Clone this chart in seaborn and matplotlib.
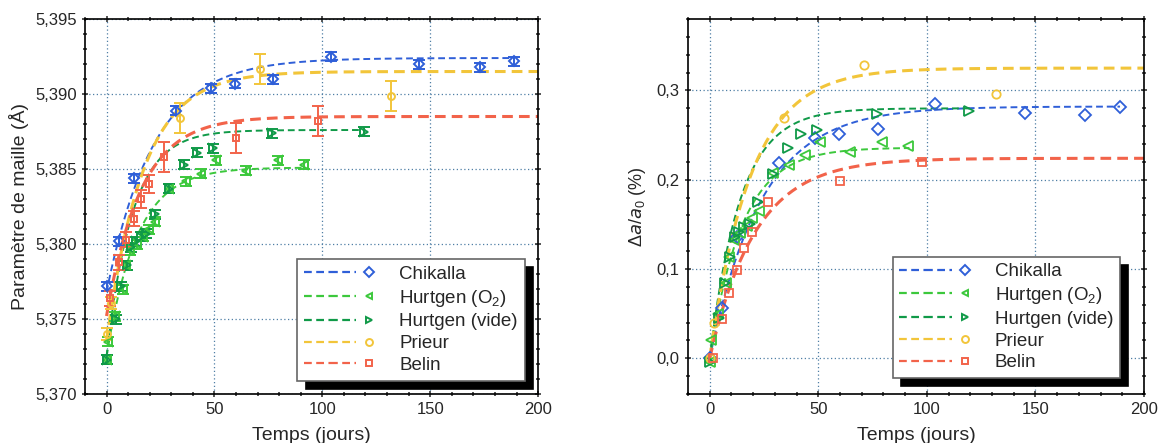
"""
Lattice parameter evolution vs time: raw values (left) and relative change (right)
"""
import matplotlib
matplotlib.use("Agg")
import matplotlib.pyplot as plt
from matplotlib.legend_handler import HandlerTuple
from matplotlib.lines import Line2D
from matplotlib.ticker import MultipleLocator, FuncFormatter
import seaborn as sns
import pandas as pd
import numpy as np

sns.set_theme(style="ticks")
plt.rcParams["font.family"] = ["Liberation Sans", "DejaVu Sans"]
plt.rcParams["mathtext.default"] = "regular"

# data
chik_t = [0, 5.8, 12.5, 32, 48.3, 59.6, 77.3, 104, 145, 173, 189]
chik_a = [5.3772, 5.3802, 5.3844, 5.3889, 5.3904, 5.3907, 5.3910, 5.3925, 5.3920, 5.3918, 5.3922]
chik_err = [0.0003] * 11
chik_r = [0.000, 0.056, 0.136, 0.219, 0.247, 0.251, 0.257, 0.285, 0.275, 0.273, 0.281]

o2_t = [0, 0.8, 4, 7.4, 9.1, 11, 14, 17, 19.5, 22.6, 29, 36.7, 43.8, 50.7, 64.8, 79.3, 91.4]
o2_a = [5.3723, 5.3735, 5.3752, 5.3770, 5.3786, 5.3796, 5.3800, 5.3805, 5.3810, 5.3815,
        5.3837, 5.3842, 5.3847, 5.3856, 5.3849, 5.3856, 5.3853]
o2_err = [0.0003] * 17
o2_r = [-0.004, 0.021, 0.050, 0.084, 0.114, 0.133, 0.140, 0.148, 0.157, 0.165,
        0.207, 0.217, 0.228, 0.242, 0.231, 0.242, 0.238]

vide_t = [0, 4.5, 6.9, 9.5, 11.5, 13.5, 16, 18.5, 22.3, 29, 35.9, 42.1, 49.4, 76.9, 119.3]
vide_a = [5.3723, 5.3750, 5.3772, 5.3786, 5.3798, 5.3802, 5.3805, 5.3807, 5.3820, 5.3837,
          5.3853, 5.3861, 5.3864, 5.3874, 5.3875]
vide_err = [0.0003] * 15
vide_r = [-0.004, 0.045, 0.084, 0.113, 0.136, 0.142, 0.147, 0.150, 0.175, 0.206,
          0.235, 0.251, 0.256, 0.274, 0.277]

prieur_t = [0, 2, 34, 71, 132]
prieur_a = [5.3740, 5.3761, 5.3884, 5.3917, 5.3899]
prieur_err = [0.0004, 0.0004, 0.0010, 0.0010, 0.0010]
prieur_r = [0.0, 0.039, 0.269, 0.328, 0.296]

belin_t = [1.7, 5.8, 8.8, 12.7, 16, 19.7, 26.8, 59.8, 97.9]
belin_a = [5.3764, 5.3788, 5.3803, 5.3817, 5.3830, 5.3840, 5.3858, 5.3871, 5.3882]
belin_err = [0.0005, 0.0005, 0.0005, 0.0005, 0.0006, 0.0006, 0.0010, 0.0010, 0.0010]
belin_r = [0.0, 0.044, 0.073, 0.099, 0.123, 0.141, 0.175, 0.199, 0.220]

labels = ["Chikalla", "Hurtgen (O$_2$)", "Hurtgen (vide)", "Prieur", "Belin"]

# exponential fit parameters: start, plateau, tau (days)
fit_a_start = [5.3768, 5.3725, 5.3725, 5.3735, 5.3752]
fit_a_plateau = [5.3924, 5.3851, 5.3876, 5.3915, 5.3885]
fit_a_tau = [22, 14, 12, 17, 16]
fit_r_start = [0.0, 0.0, 0.0, 0.0, 0.0]
fit_r_plateau = [0.282, 0.236, 0.280, 0.325, 0.224]
fit_r_tau = [24, 15, 14, 19, 21]
fit_end = [189, 92, 120, 200, 200]

series = [
    (chik_t, chik_a, chik_err, chik_r, "#2f5fd8", "D", 5, 1.4),
    (o2_t, o2_a, o2_err, o2_r, "#3cc83c", "<", 6, 1.4),
    (vide_t, vide_a, vide_err, vide_r, "#109a48", ">", 6, 1.4),
    (prieur_t, prieur_a, prieur_err, prieur_r, "#f2c53a", "o", 5, 2.2),
    (belin_t, belin_a, belin_err, belin_r, "#f2634a", "s", 5, 2.2),
]


def comma(fmt):
    return FuncFormatter(lambda v, p: format(v, fmt).replace(".", ","))


fig = plt.figure(figsize=(11.59, 4.43), dpi=100)
ax1 = fig.add_axes([0.0733, 0.1106, 0.391, 0.8465])
ax2 = fig.add_axes([0.5936, 0.1106, 0.3934, 0.8465])

handles = []
for i, (t, a, err, r, col, mk, ms, lw) in enumerate(series):
    tt = np.linspace(0, fit_end[i], 200)
    fits = ((ax1, fit_a_start[i], fit_a_plateau[i], fit_a_tau[i]),
            (ax2, fit_r_start[i], fit_r_plateau[i], fit_r_tau[i]))
    for ax, y0, yinf, tau in fits:
        curve = pd.DataFrame({"t": tt, "y": yinf - (yinf - y0) * np.exp(-tt / tau)})
        sns.lineplot(data=curve, x="t", y="y", ax=ax, color=col, lw=lw,
                     linestyle=(0, (3.5, 2.0)), zorder=2)
    ax1.errorbar(t, a, yerr=err, fmt=mk, ms=ms, mfc="none", mec=col, mew=1.4,
                 ecolor=col, elinewidth=1.4, capsize=4, capthick=1.4, zorder=3)
    ax2.plot(t, r, mk, ms=ms + 1, mfc="none", mec=col, mew=1.3, zorder=3)
    hl = Line2D([], [], color=col, lw=1.6, linestyle=(0, (3.5, 2.0)))
    hm = Line2D([], [], color=col, marker=mk, ms=5, mfc="none", mew=1.4, ls="none")
    handles.append((hl, hl, hm))

for ax in (ax1, ax2):
    ax.set_xlim(-10, 200)
    ax.xaxis.set_major_locator(MultipleLocator(50))
    ax.xaxis.set_minor_locator(MultipleLocator(10))
    ax.tick_params(which="both", top=True, right=True, labelsize=12, width=1.1)
    ax.tick_params(which="major", length=5)
    ax.tick_params(which="minor", length=3)
    ax.tick_params(axis="both", which="both", direction="in")
    ax.tick_params(axis="x", which="both", bottom=True, direction="inout")
    ax.tick_params(axis="y", which="both", left=True, direction="inout")
    ax.grid(True, which="major", linestyle=(0, (1, 2)), color="#4f7fa5", lw=0.9)
    for s in ax.spines.values():
        s.set_color("black")
        s.set_linewidth(1.2)
    ax.set_xlabel("Temps (jours)", fontsize=14, labelpad=7)
    leg = ax.legend(handles, labels, handler_map={tuple: HandlerTuple(ndivide=None, pad=0)},
                    handlelength=4.2, fontsize=13.5, labelspacing=0.25, handletextpad=0.9,
                    loc="lower right", borderaxespad=0, fancybox=False, framealpha=1,
                    edgecolor="#666666", borderpad=0.35,
                    shadow={"ox": 6, "oy": -6, "color": "black", "alpha": 1})
    leg.get_frame().set_linewidth(1.2)

ax1.legend_.set_bbox_to_anchor((0.970, 0.036), transform=ax1.transAxes)
ax2.legend_.set_bbox_to_anchor((0.947, 0.043), transform=ax2.transAxes)

ax1.set_ylim(5.370, 5.395)
ax1.yaxis.set_major_locator(MultipleLocator(0.005))
ax1.yaxis.set_minor_locator(MultipleLocator(0.001))
ax1.yaxis.set_major_formatter(comma(".3f"))
ax1.set_ylabel("Paramètre de maille (Å)", fontsize=14, labelpad=4)

ax2.set_ylim(-0.04, 0.38)
ax2.yaxis.set_major_locator(MultipleLocator(0.1))
ax2.yaxis.set_minor_locator(MultipleLocator(0.02))
ax2.yaxis.set_major_formatter(comma(".1f"))
ax2.set_ylabel(r"$\Delta$$\it{a}$/$\it{a}$$_0$ (%)", fontsize=13, labelpad=6)

fig.savefig("out.png", dpi=100)
